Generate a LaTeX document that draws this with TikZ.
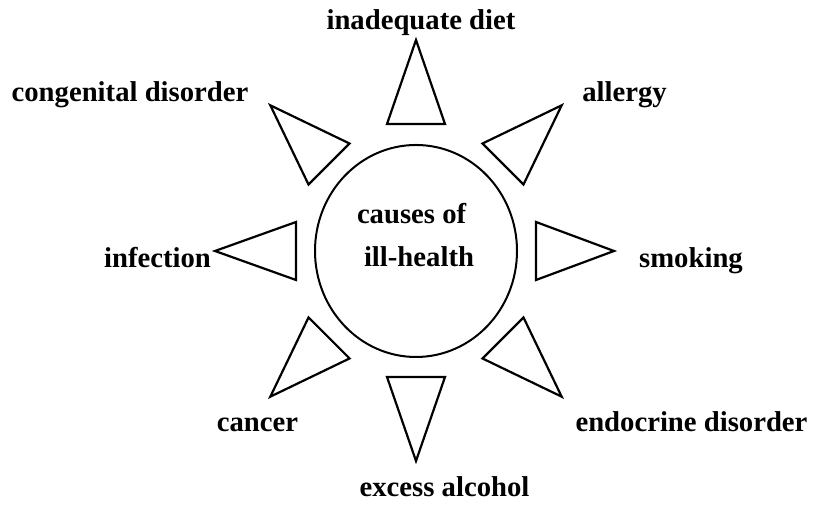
\documentclass[tikz,border=0pt]{standalone}
\usepackage{fontspec}
\setmainfont{Liberation Serif}
\usetikzlibrary{shapes.geometric, positioning, calc}

\begin{document}
\begin{tikzpicture}[
  x=0.5bp, y=0.5bp,
  hub/.style={draw, ellipse, line width=1bp, minimum width=101bp, minimum height=106bp, inner sep=0pt},
  ray/.style={draw, line width=1.1bp, line join=miter},
  lbl/.style={font=\fontsize{14.4}{21.5}\selectfont\bfseries, inner sep=0pt, anchor=base}
]
\useasboundingbox (0,0) rectangle (818,522);

% ---- Centre ----
\node[hub] (hub) at (416,271) {};
\node[lbl, align=left, anchor=center] (title) at (415.5,287) {causes of\\\hspace*{3.5bp}ill-health};

% ---- Rays (angle/base/tip) ----
\foreach \a/\b/\t in {90/127/211, 270/126/210, 0/120/198, 180/120/201,
                      45/123/206, 135/123/206, 225/123/206, 315/123/206} {
  \draw[ray, shift={(hub.center)}, rotate=\a] (\b,-29) -- (\t,0) -- (\b,29) -- cycle;
}

% ---- Labels ----
\node[lbl] (diet) at (421,492) {inadequate diet};
\node[lbl] (congenital) at (130,420) {congenital disorder};
\node[lbl] (allergy) at (624.5,420) {allergy};
\node[lbl] (infection) at (157.5,254) {infection};
\node[lbl] (smoking) at (691,254) {smoking};
\node[lbl] (cancer) at (257.5,90) {cancer};
\node[lbl] (endocrine) at (691.5,90) {endocrine disorder};
\node[lbl] (alcohol) at (444.5,25) {excess alcohol};

\end{tikzpicture}
\end{document}
